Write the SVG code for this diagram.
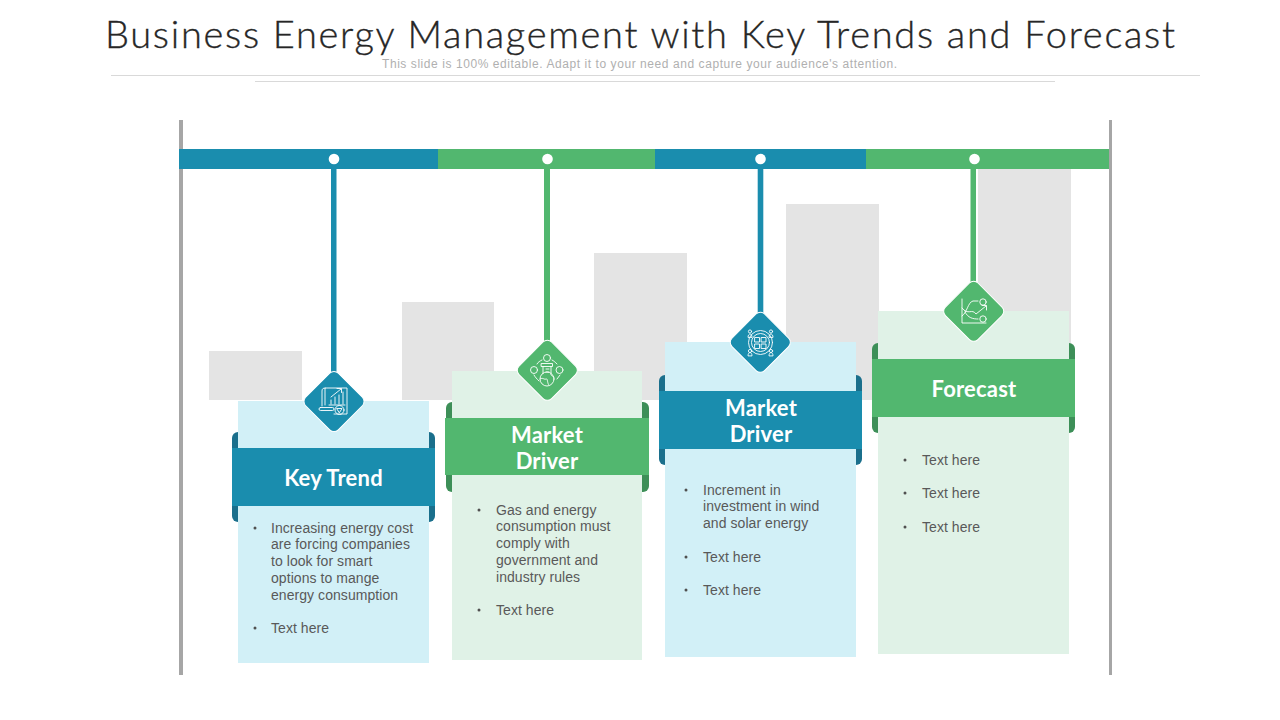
<svg xmlns="http://www.w3.org/2000/svg" width="1280" height="720" viewBox="0 0 1280 720">
<style>
.title{font-family:"Lato","Liberation Sans",sans-serif;font-size:38px;font-weight:300;fill:#262626;stroke:#262626;stroke-width:.35}
.sub{font-family:"Liberation Sans",sans-serif;font-size:12px;fill:#b0b0b0}
.head{font-family:"Lato","Liberation Sans",sans-serif;font-size:22px;font-weight:700;letter-spacing:.2px;fill:#fff;text-anchor:middle}
.body{font-family:"Liberation Sans",sans-serif;font-size:14px;letter-spacing:.06px;fill:#595959}
.blue{fill:#1a8dae}.green{fill:#52b76f}.dblue{fill:#1a6f8c}.dgreen{fill:#3d8f58}
.lblue{fill:#d2f0f7}.lgreen{fill:#e0f2e7}.grey{fill:#e4e4e4}.rule{stroke:#d9d9d9;stroke-width:1}
.ic{fill:none;stroke:#fff;stroke-width:.9;stroke-linecap:round;stroke-linejoin:round}
.dot{fill:#505050}
</style>
<defs>
<rect id="dia" x="-23" y="-23" width="46" height="46" rx="6" transform="rotate(45)" stroke="#fff" stroke-width="1"/>
</defs>
<g id="title">
<text class="title" x="105" y="48" textLength="1070" lengthAdjust="spacing">Business Energy Management with Key Trends and Forecast</text>
<text class="sub" x="382" y="68" textLength="515" lengthAdjust="spacing">This slide is 100% editable. Adapt it to your need and capture your audience's attention.</text>
<line class="rule" x1="111" y1="75.5" x2="1200" y2="75.5"/>
<line class="rule" x1="255" y1="81.5" x2="1055" y2="81.5"/>
</g>
<g id="columns">
<rect class="grey" x="209" y="351" width="93" height="49"/>
<rect class="grey" x="402" y="302" width="92" height="98"/>
<rect class="grey" x="594" y="253" width="93" height="147"/>
<rect class="grey" x="786" y="204" width="93" height="196"/>
<rect class="grey" x="978" y="169" width="93" height="231"/>
</g>
<g id="timeline">
<rect x="179" y="120" width="4" height="555" fill="#a6a6a6"/>
<rect x="1109" y="120" width="3" height="555" fill="#a6a6a6"/>
<rect class="blue" x="179" y="149" width="259" height="20"/>
<rect class="green" x="438" y="149" width="217" height="20"/>
<rect class="blue" x="655" y="149" width="211" height="20"/>
<rect class="green" x="866" y="149" width="243" height="20"/>
</g>
<g id="connectors">
<rect class="blue" x="331" y="167" width="5.500" height="206"/>
<rect class="green" x="544" y="167" width="6" height="176"/>
<rect class="blue" x="757.700" y="167" width="5.600" height="148"/>
<rect class="green" x="970.500" y="167" width="5.500" height="116"/>
<g fill="#fff"><circle cx="334" cy="159" r="5.300"/><circle cx="547.500" cy="159" r="5.300"/><circle cx="760.500" cy="159" r="5.300"/><circle cx="974.500" cy="159" r="5.300"/></g>
</g>
<g id="node-key-trend">
<rect class="dblue" x="232" y="432" width="203" height="90" rx="6"/>
<rect class="lblue" x="238" y="401" width="191" height="262"/>
<rect class="blue" x="232" y="448" width="203" height="58"/>
<use href="#dia" x="334" y="401.500" class="blue"/>
<g class="ic"><path d="M325 405V388H347V414H334"/><path d="M325 388c-2 0-3 1-3 3v15"/><path d="M331 404v-4M335 404v-7M339 404v-9M343 404v-12M331 397l10-8M337 388.500h4.500v4M329 405h16"/><rect x="319" y="407.500" width="15" height="3" rx="1.500"/><circle cx="339.500" cy="410" r="4.500"/><path d="M337 408.500h5l-2.500 4z"/></g>
<text class="head" x="333.500" y="486">Key Trend</text>
<g class="body"><text x="271" y="533">Increasing energy cost</text><text x="271" y="549">are forcing companies</text><text x="271" y="566">to look for smart</text><text x="271" y="583">options to mange</text><text x="271" y="600">energy consumption</text><text x="271" y="633">Text here</text></g>
<g class="dot"><circle cx="255" cy="528" r="1.500"/><circle cx="255" cy="628" r="1.500"/></g>
</g>
<g id="node-market-driver-1">
<rect class="dgreen" x="446" y="402" width="203" height="90" rx="6"/>
<rect class="lgreen" x="452" y="371" width="190" height="289"/>
<rect class="green" x="445" y="418" width="204" height="57"/>
<use href="#dia" x="547.300" y="370.300" class="green"/>
<g class="ic"><circle cx="547" cy="358" r="3.500"/><circle cx="534" cy="370" r="3.500"/><circle cx="559.500" cy="370" r="3.500"/><circle cx="547" cy="379" r="7"/><path d="M541.500 363.500h11v3h-11zM543 366.500v7M551 366.500v6M546 369h3M546 372h3M540 379c3-2 4 1 6 0s1 5 3 6M551 373c-1 3 2 3 3 4"/><path d="M537 364c1-2 3-3 5-4M552 360c2 1 3 2 5 4M534 375c1 2 3 4 5 6M560 375l-3 4"/></g>
<text class="head" x="547" y="443">Market</text><text class="head" x="547" y="469">Driver</text>
<g class="body"><text x="496" y="515">Gas and energy</text><text x="496" y="531">consumption must</text><text x="496" y="548">comply with</text><text x="496" y="565">government and</text><text x="496" y="582">industry rules</text><text x="496" y="615">Text here</text></g>
<g class="dot"><circle cx="479" cy="510" r="1.500"/><circle cx="479" cy="610" r="1.500"/></g>
</g>
<g id="node-market-driver-2">
<rect class="dblue" x="659" y="375" width="203" height="90" rx="6"/>
<rect class="lblue" x="665" y="342" width="191" height="315"/>
<rect class="blue" x="659" y="391" width="203" height="58"/>
<use href="#dia" x="760.300" y="342.300" class="blue"/>
<g class="ic"><circle cx="760.500" cy="342.500" r="12"/><circle cx="760.500" cy="342.500" r="9"/><path d="M755 337.500h4.500v4.500h-4.500zM761.500 337.500h4.500v4.500h-4.500zM755 344h4.500v4.500h-4.500zM761.500 344h4.500v4.500h-4.500z"/><circle cx="750" cy="331.500" r="1.600"/><circle cx="771" cy="331.500" r="1.600"/><circle cx="750" cy="351" r="1.600"/><circle cx="771" cy="351" r="1.600"/><path d="M748 337c0-4 4-4 4 0zM769 337c0-4 4-4 4 0zM748 355.500c0-4 4-4 4 0zM769 355.500c0-4 4-4 4 0z"/></g>
<text class="head" x="761" y="416">Market</text><text class="head" x="761" y="442">Driver</text>
<g class="body"><text x="703" y="495">Increment in</text><text x="703" y="511">investment in wind</text><text x="703" y="528">and solar energy</text><text x="703" y="562">Text here</text><text x="703" y="595">Text here</text></g>
<g class="dot"><circle cx="686" cy="490" r="1.500"/><circle cx="686" cy="557" r="1.500"/><circle cx="686" cy="590" r="1.500"/></g>
</g>
<g id="node-forecast">
<rect class="dgreen" x="872" y="343" width="203" height="90" rx="6"/>
<rect class="lgreen" x="878" y="311" width="191" height="343"/>
<rect class="green" x="872" y="359" width="203" height="58"/>
<use href="#dia" x="973.700" y="311.300" class="green"/>
<g class="ic"><path d="M962 299V323H986"/><path d="M962 316c5-3 6-14 11-15h5"/><path d="M962 308c6 8 10 0 14 6l10-8M982 305.500h4.500v4.500"/><path d="M965 312c3 6 8 7 13 7"/><circle cx="983" cy="302" r="3.200"/><circle cx="983" cy="319" r="3.200"/></g>
<text class="head" x="974" y="397">Forecast</text>
<g class="body"><text x="922" y="465">Text here</text><text x="922" y="498">Text here</text><text x="922" y="532">Text here</text></g>
<g class="dot"><circle cx="905" cy="460" r="1.500"/><circle cx="905" cy="493" r="1.500"/><circle cx="905" cy="527" r="1.500"/></g>
</g>
</svg>
